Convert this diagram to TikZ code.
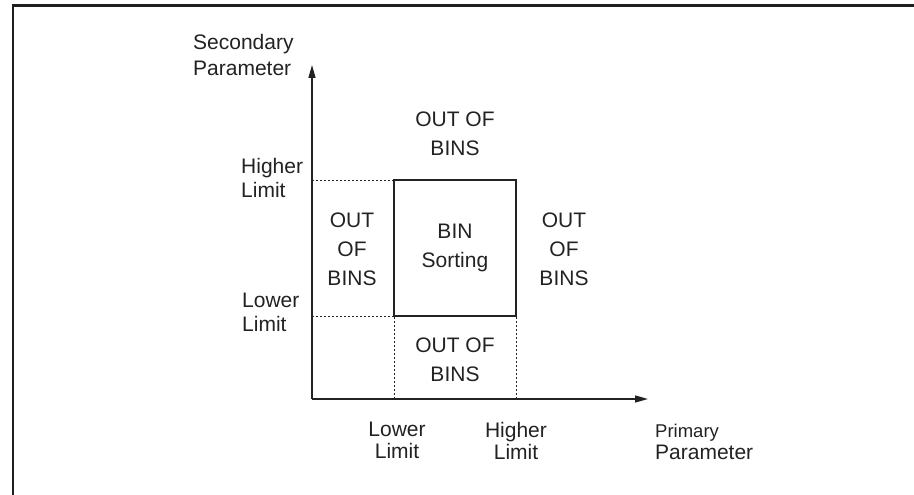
\documentclass[tikz,border=0pt]{standalone}
\usepackage{fontspec}
\setmainfont{Liberation Sans}
\usetikzlibrary{arrows.meta,positioning}
\definecolor{Ink}{HTML}{222222}
\tikzset{
 lbl/.style={text=Ink,inner sep=0pt,font=\fontsize{21}{24}\selectfont,align=left},
 axlbl/.style={lbl,font=\fontsize{21}{22}\selectfont,align=center},
 region/.style={text=Ink,inner sep=0pt,font=\fontsize{21}{29}\selectfont,align=center},
 axis/.style={-{Triangle[length=13pt,width=7pt]},line width=1.4pt,draw=Ink},
 binbox/.style={line width=1.4pt,draw=Ink},
 guide/.style={line width=1pt,draw=Ink,dash pattern=on 2pt off 2pt},
 frame/.style={line width=2.5pt,draw=black!88}
}
\begin{document}
\begin{tikzpicture}[x=1pt,y=-1pt]
\useasboundingbox (0,0) rectangle (914,495);
\draw[frame] (13,495) -- (13,5.5) -- (914,5.5);
% axes and limits
\coordinate (O) at (312,399);
\coordinate (ytip) at (312,65);
\coordinate (xtip) at (648,399);
\coordinate (LL) at (394,316);
\coordinate (HH) at (516,180);
\coordinate (yHi) at (312,180);
\coordinate (yLo) at (312,316);
\coordinate (xLo) at (394,399);
\coordinate (xHi) at (516,399);
\coordinate (HL) at (516,316);
\coordinate (LH) at (394,180);
\draw[axis] (O) -- (ytip);
\draw[axis] (O) -- (xtip);
\draw[binbox] (LL) rectangle (HH);
\draw[guide] (yHi) -- (LH);
\draw[guide] (yLo) -- (LL);
\draw[guide] (xLo) -- (LL);
\draw[guide] (xHi) -- (HL);
% axis texts
\node[lbl,anchor=north west,font=\fontsize{21}{26}\selectfont] (sec) at (193,34) {Secondary\\Parameter};
\node[lbl,anchor=north west] (yhigh) at (241,158) {Higher\\Limit};
\node[lbl,anchor=north west] (ylow) at (242,293) {Lower\\Limit};
\node[axlbl,anchor=north] (xlow) at (397,422) {Lower\\Limit};
\node[axlbl,anchor=north] (xhigh) at (516,422) {Higher\\Limit};
\node[lbl,anchor=north west,font=\fontsize{21}{22}\selectfont] (pri) at (655,424) {{\fontsize{18.5}{22}\selectfont Primary}\\Parameter};
% regions
\node[region,anchor=north] (rtop) at (455,112) {OUT OF\\BINS};
\node[region,anchor=north] (rleft) at (352,213) {OUT\\OF\\BINS};
\node[region,anchor=north] (rbin) at (455,224) {BIN\\Sorting};
\node[region,anchor=north] (rright) at (564,213) {OUT\\OF\\BINS};
\node[region,anchor=north] (rbot) at (455,338) {OUT OF\\BINS};
\end{tikzpicture}
\end{document}
